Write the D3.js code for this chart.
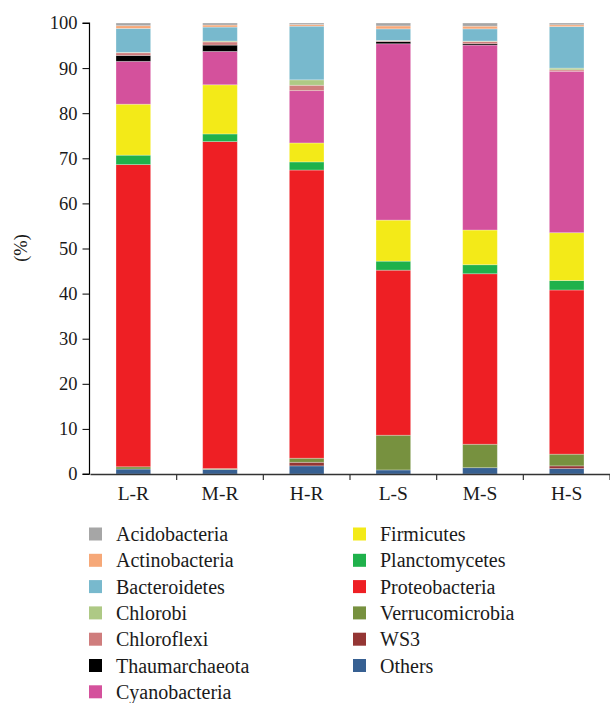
<!DOCTYPE html>
<html><head><meta charset="utf-8">
<script src="https://cdn.jsdelivr.net/npm/d3@7"></script>
<style>body{margin:0;background:#fff}svg{display:block}</style>
</head><body>
<script>
const categories = ["L-R","M-R","H-R","L-S","M-S","H-S"];
// stack order bottom -> top
const seriesNames = ["Others","WS3","Verrucomicrobia","Proteobacteria","Planctomycetes","Firmicutes","Cyanobacteria","Thaumarchaeota","Chloroflexi","Chlorobi","Bacteroidetes","Actinobacteria","Acidobacteria"];
const Others          = [1.1, 1.0, 1.8, 0.9, 1.4, 1.2];
const WS3             = [0, 0, 0.8, 0, 0, 0.6];
const Verrucomicrobia = [0.5, 0.2, 0.9, 7.7, 5.2, 2.6];
const Proteobacteria  = [67.0, 72.5, 63.9, 36.6, 37.8, 36.4];
const Planctomycetes  = [2.1, 1.7, 1.8, 2.0, 2.0, 2.1];
const Firmicutes      = [11.3, 10.9, 4.2, 9.1, 7.7, 10.6];
const Cyanobacteria   = [9.5, 7.4, 11.6, 39.1, 41.0, 35.8];
const Thaumarchaeota  = [1.3, 1.4, 0, 0.5, 0.3, 0];
const Chloroflexi     = [0.6, 0.7, 1.2, 0.15, 0.5, 0.3];
const Chlorobi        = [0.1, 0.2, 1.2, 0.1, 0.1, 0.4];
const Bacteroidetes   = [5.3, 3.1, 11.9, 2.55, 2.7, 9.2];
const Actinobacteria  = [0.6, 0.45, 0.35, 0.65, 0.6, 0.4];
const Acidobacteria   = [0.6, 0.45, 0.35, 0.65, 0.7, 0.4];
const yTicks = [0,10,20,30,40,50,60,70,80,90,100];
const legendLeft = ["Acidobacteria","Actinobacteria","Bacteroidetes","Chlorobi","Chloroflexi","Thaumarchaeota","Cyanobacteria"];
const legendRight = ["Firmicutes","Planctomycetes","Proteobacteria","Verrucomicrobia","WS3","Others"];

const seriesValues = {Others, WS3, Verrucomicrobia, Proteobacteria, Planctomycetes, Firmicutes, Cyanobacteria, Thaumarchaeota, Chloroflexi, Chlorobi, Bacteroidetes, Actinobacteria, Acidobacteria};
const colors = {
  Acidobacteria:"#a6a6a6", Actinobacteria:"#f6a878", Bacteroidetes:"#78b9cd", Chlorobi:"#aec985",
  Chloroflexi:"#cf7d7d", Thaumarchaeota:"#000000", Cyanobacteria:"#d4519c", Firmicutes:"#f3ea18",
  Planctomycetes:"#1fb14b", Proteobacteria:"#ee1f24", Verrucomicrobia:"#77913f", WS3:"#943634", Others:"#376092"
};

const W = 610, H = 703;
const svg = d3.select("body").append("svg").attr("width", W).attr("height", H);
const font = "'Liberation Serif', 'DejaVu Serif', serif";
const txtColor = "#1a1a1a";

const x = d3.scaleBand().domain(categories).range([90, 610]).paddingInner(0.6).paddingOuter(0.3);
const y = d3.scaleLinear().domain([0, 100]).range([474, 23]);

const table = categories.map((c, i) => {
  const row = {cat: c};
  seriesNames.forEach(s => row[s] = seriesValues[s][i]);
  return row;
});
const stacked = d3.stack().keys(seriesNames)(table);

svg.append("g").selectAll("g").data(stacked).join("g")
  .attr("fill", d => colors[d.key])
  .selectAll("rect").data(d => d).join("rect")
  .attr("x", d => x(d.data.cat))
  .attr("width", x.bandwidth())
  .attr("y", d => y(d[1]))
  .attr("height", d => Math.max(0, y(d[0]) - y(d[1])))
  .attr("stroke", "#ffffff").attr("stroke-opacity", 0.35).attr("stroke-width", 0.8);

// y axis
const yAxis = svg.append("g").attr("transform", "translate(89.5,0)")
  .call(d3.axisLeft(y).tickValues(yTicks).tickSize(7).tickPadding(5).tickFormat(d3.format("d")));
yAxis.select(".domain").attr("stroke", "#000").attr("stroke-width", 1.2).attr("d", `M-7,${y(0)}H0V${y(100)}H-7`);
yAxis.selectAll(".tick line").attr("stroke", "#000");
yAxis.selectAll("text").attr("font-family", font).attr("font-size", 18.5).attr("fill", txtColor);

// x axis
const xAxis = svg.append("g").attr("transform", `translate(0,${y(0)})`)
  .call(d3.axisBottom(x).tickSize(0).tickPadding(12));
xAxis.select(".domain").attr("stroke", "#333").attr("stroke-width", 1.5);
xAxis.selectAll("text").attr("font-family", font).attr("font-size", 19.5).attr("fill", txtColor);
const step = x.step();
const bounds = categories.map(c => x(c) + x.bandwidth() / 2 + step / 2);
xAxis.selectAll("line.bt").data(bounds).join("line").attr("class", "bt")
  .attr("x1", d => d).attr("x2", d => d).attr("y1", 0).attr("y2", 6)
  .attr("stroke", "#333").attr("stroke-width", 1.2);

// y label
svg.append("text").attr("transform", "translate(27,248) rotate(-90)")
  .attr("text-anchor", "middle").attr("font-family", font).attr("font-size", 18.5).attr("fill", txtColor).text("(%)");

// legend
function legendCol(items, mx, tx) {
  const g = svg.append("g");
  items.forEach((name, i) => {
    const cy = 534 + i * 26.3;
    g.append("rect").attr("x", mx).attr("y", cy - 6.5).attr("width", 13).attr("height", 13).attr("fill", colors[name]);
    g.append("text").attr("x", tx).attr("y", cy).attr("dy", "0.35em")
      .attr("font-family", font).attr("font-size", 20).attr("fill", txtColor).text(name);
  });
}
legendCol(legendLeft, 89, 116);
legendCol(legendRight, 353, 380);
</script>
</body></html>
